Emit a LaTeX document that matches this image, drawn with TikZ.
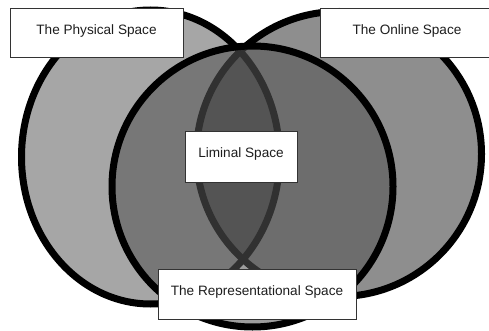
\documentclass[tikz,border=0pt]{standalone}
\usepackage{fontspec}
\setmainfont{Liberation Sans}
\definecolor{leftgray}{HTML}{A6A6A6}
\definecolor{rightgray}{HTML}{8E8E8E}
\definecolor{lensgray}{HTML}{525252}
\definecolor{centergray}{HTML}{565656}
\definecolor{boxline}{HTML}{333333}
\definecolor{txt}{HTML}{1E1E1E}
\tikzset{
  outline/.style={draw=black, line width=7pt},
  labelbox/.style={draw=boxline, line width=0.9pt, fill=white, inner sep=0pt},
  labeltext/.style={text=txt, font=\fontsize{13.6}{16}\selectfont, inner sep=0pt},
}
\begin{document}
\begin{tikzpicture}[x=1pt, y=-1pt]
\useasboundingbox (0,0) rectangle (489,331);
% left (physical) and right (online) ellipses
\fill[leftgray] (150.5,157) ellipse [x radius=129pt, y radius=147pt];
\fill[rightgray] (339,154) circle [radius=142.5pt];
\begin{scope}
  \clip (150.5,157) ellipse [x radius=129pt, y radius=147pt];
  \fill[lensgray] (339,154) circle [radius=142.5pt];
\end{scope}
\draw[outline] (150.5,157) ellipse [x radius=129pt, y radius=147pt];
\draw[outline] (339,154) circle [radius=142.5pt];
% central (representational) circle
\fill[centergray, fill opacity=0.58] (252.5,186.5) circle [radius=140.5pt];
\draw[outline] (252.5,186.5) circle [radius=140.5pt];
% label boxes
\node[labelbox, minimum width=173pt, minimum height=49pt] (physbox) at (96.5,32.5) {};
\node[labeltext] (phys) at ([yshift=1.5pt]physbox.center) {The Physical Space};
\node[labelbox, minimum width=171pt, minimum height=49pt] (onlinebox) at (405.5,32.5) {};
\node[labeltext] (online) at ([xshift=1.5pt,yshift=1.5pt]onlinebox.center) {The Online Space};
\node[labelbox, minimum width=112pt, minimum height=51pt] (limbox) at (241,156.5) {};
\node[labeltext] (lim) at ([yshift=3pt]limbox.center) {Liminal Space};
\node[labelbox, minimum width=198pt, minimum height=50pt] (repbox) at (257,294) {};
\node[labeltext] (rep) at ([yshift=2pt]repbox.center) {The Representational Space};
\end{tikzpicture}
\end{document}
